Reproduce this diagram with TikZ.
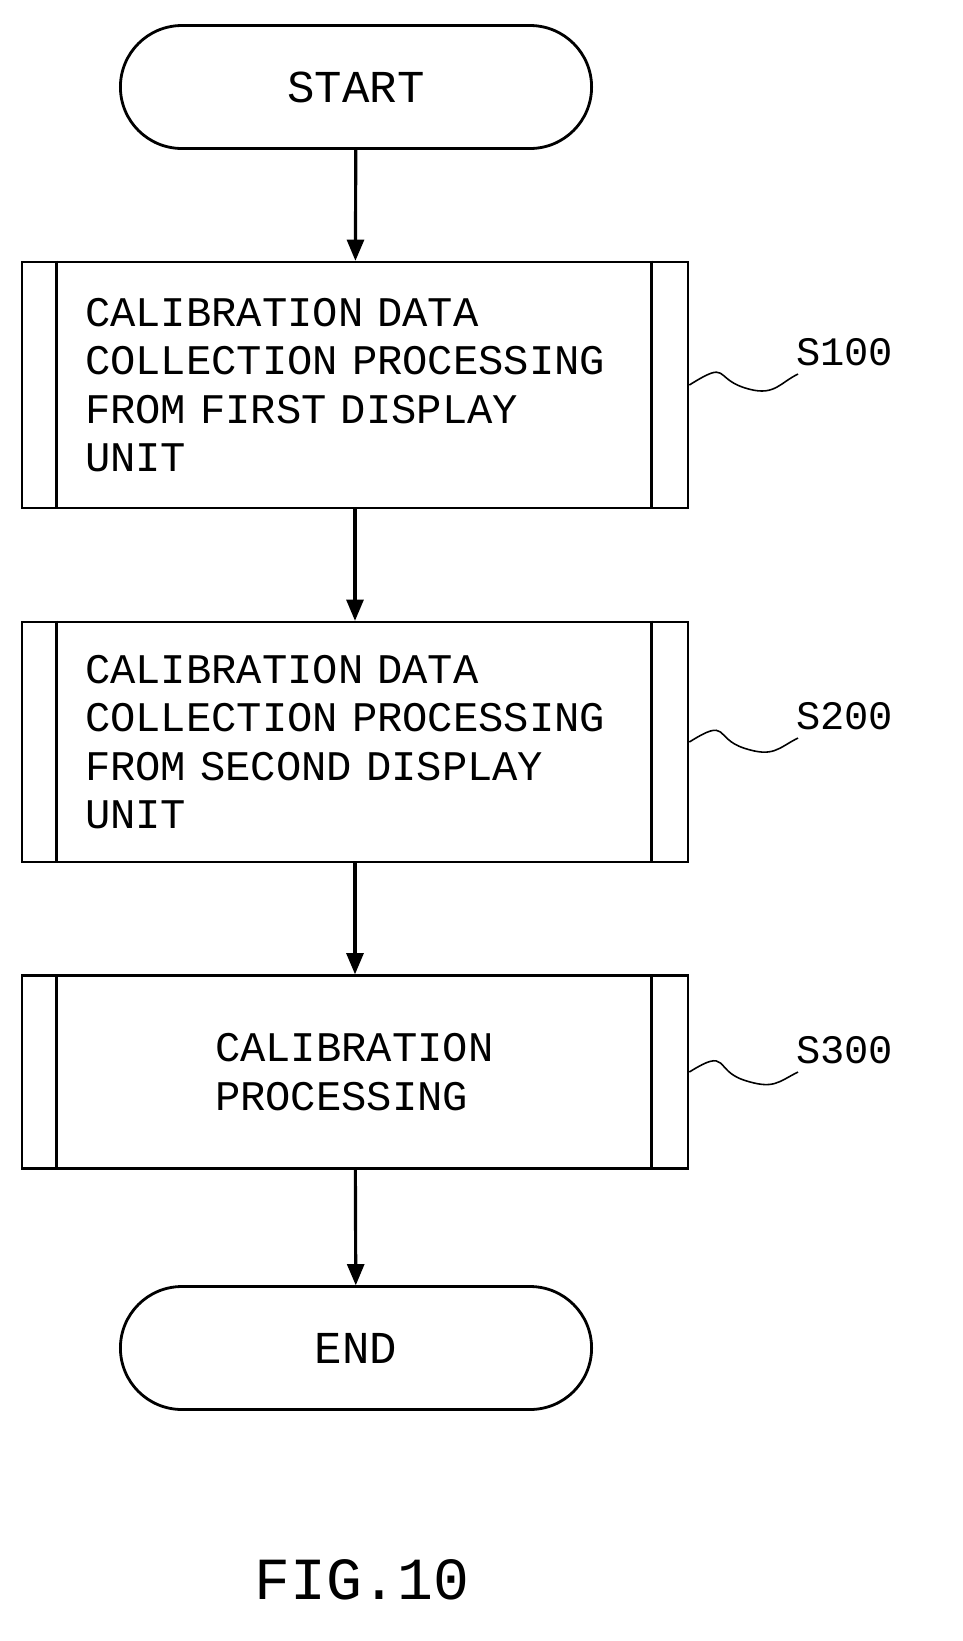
\documentclass[tikz,border=0pt]{standalone}
\usepackage{fontspec}
\setmainfont{Liberation Mono}
\usetikzlibrary{shapes,arrows,positioning,calc}

\tikzset{
    term/.style={draw, rounded rectangle, line width=1.6pt, minimum width=9.66cm, minimum height=2.46cm, font=\fontsize{26}{30}\selectfont},
    proc/.style={draw, line width=1.6pt, minimum width=13.32cm, align=left, font=\fontsize{24}{27.5}\selectfont},
    flow/.style={->, line width=1.8pt, >=triangle 45},
    tag/.style={font=\fontsize{23}{27}\selectfont, anchor=west},
    wave/.style={line width=0.9pt}
}

\begin{document}
\begin{tikzpicture}[x=0.02cm, y=-0.02cm]
    % page frame
    \useasboundingbox (0,0) rectangle (963,1641);

    % terminals
    \node[term] (start) at (356,87) {START};
    \node[term] (end) at (356,1348) {END};

    % process boxes
    \node[proc, minimum height=4.92cm, text width=10.8cm] (s100) at (355,385) {CALIBRATION DATA\\COLLECTION PROCESSING\\FROM FIRST DISPLAY\\UNIT};
    \node[proc, minimum height=4.8cm, text width=10.8cm] (s200) at (355,742) {CALIBRATION DATA\\COLLECTION PROCESSING\\FROM SECOND DISPLAY\\UNIT};
    \node[proc, minimum height=3.86cm, text width=5.6cm] (s300) at (355,1072) {CALIBRATION\\PROCESSING};

    % inner side bars
    \foreach \b in {s100,s200,s300} {
        \draw[line width=1.6pt] ($(\b.north west)+(36,0)$) -- ($(\b.south west)+(36,0)$);
        \draw[line width=1.6pt] ($(\b.north east)+(-38,0)$) -- ($(\b.south east)+(-38,0)$);
    }

    % arrows
    \draw[flow] (start) -- (s100);
    \draw[flow] (s100) -- (s200);
    \draw[flow] (s200) -- (s300);
    \draw[flow] (s300) -- (end);

    % step labels
    \node[tag] (l100) at (790,352) {S100};
    \node[tag] (l200) at (790,716) {S200};
    \node[tag] (l300) at (790,1050) {S300};
    \foreach \b/\l in {s100/l100, s200/l200, s300/l300} {
        \coordinate (w\b) at ($(\l.west)+(8,22)$);
        \draw[wave] (\b.east) .. controls +(40,-25) and +(-30,-10) .. ($(\b.east)!0.5!(w\b)+(0,8)$)
            .. controls +(30,10) and +(-20,10) .. (w\b);
    }

    % caption
    \node[font=\fontsize{34}{40}\selectfont] (cap) at (362,1580) {FIG.10};
\end{tikzpicture}
\end{document}
